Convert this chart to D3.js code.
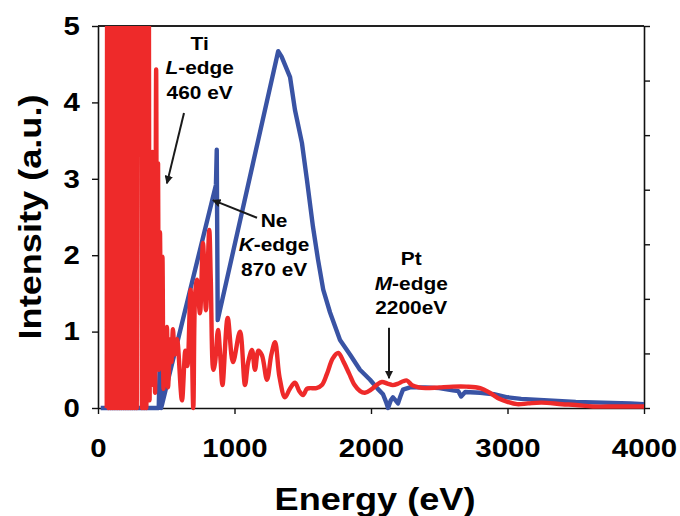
<!DOCTYPE html>
<html lang="en">
<head>
<meta charset="utf-8"/>
<title>Intensity vs Energy</title>
<script src="https://d3js.org/d3.v7.min.js"></script>
<style>
  body { margin: 0; background: #fff; }
  svg text { font-family: "Liberation Sans", Arial, sans-serif; font-weight: bold; fill: #000; }
</style>
</head>
<body>
<div id="chart"></div>
<script>
  // axis ticks
  const xTicks = [0, 1000, 2000, 3000, 4000];
  const yTicks = [0, 1, 2, 3, 4, 5];
  const rightTicks = [0, 1, 2, 3, 4, 5, 6, 7];

  // blue spectrum, [energy eV, intensity]
  const blueSpectrum = [
    [20, 0], [445, 0], [455, 0.85], [462, 0], [467, 0.03], [864, 2.92], [870, 3.38], [877, 1.15],
    [1320, 4.67], [1345, 4.6], [1407, 4.33], [1443, 3.9], [1494, 3.47], [1531, 2.98], [1575, 2.37],
    [1612, 1.94], [1650, 1.55], [1700, 1.25], [1773, 0.89], [1846, 0.7], [1919, 0.5], [1993, 0.37],
    [2050, 0.25], [2088, 0.18], [2110, 0.08], [2125, 0.0], [2145, 0.1], [2161, 0.14], [2180, 0.1],
    [2198, 0.06], [2215, 0.15], [2234, 0.24], [2286, 0.27], [2400, 0.27], [2500, 0.26], [2600, 0.23],
    [2640, 0.22], [2660, 0.15], [2690, 0.21], [2800, 0.2], [2900, 0.18], [3000, 0.14], [3100, 0.12],
    [3300, 0.1], [3500, 0.08], [3700, 0.07], [3900, 0.06], [4000, 0.05]
  ];

  // red spectrum, [energy eV, intensity] (values above 5 run off the top)
  const redSpectrum = [
    [64, 0], [68, 6], [76, 0], [84, 6], [92, 0], [100, 6], [108, 0], [116, 6], [124, 0], [132, 6],
    [140, 0], [148, 6], [156, 0], [164, 6], [172, 0], [180, 6], [188, 0], [196, 6], [204, 0], [212, 6],
    [220, 0], [228, 6], [236, 0], [244, 6], [252, 0], [260, 6], [268, 0], [276, 6], [284, 0], [290, 6],
    [302, 3.9], [314, 6], [322, 0], [330, 6], [338, 0], [346, 6], [354, 0], [362, 6], [370, 0.1],
    [372, 6], [378, 0.1], [383, 3.3], [390, 0.3], [398, 3.35], [404, 0.3], [412, 1.5],
    [418, 0.2], [426, 4.43], [432, 0.6], [440, 3.2], [446, 0.5], [454, 2.3], [462, 0.6], [472, 1.98],
    [480, 0.25], [488, 0.9], [495, 0.5], [505, 1.06], [513, 0.27], [530, 0.9], [538, 0.6], [549, 1.03],
    [562, 0.7], [579, 0.9], [615, 0.1], [640, 0.75], [655, 0.55], [678, 1.55], [698, 0], [712, 1.5],
    [725, 1.68], [747, 1.24], [769, 2.16], [791, 1.28], [815, 2.33], [826, 1.7], [845, 0.5], [858, 0.6],
    [879, 1.02], [897, 0.65], [912, 0.3], [950, 1.18], [989, 0.6], [1040, 1.0], [1077, 0.3], [1100, 0.6],
    [1128, 0.76], [1150, 0.5], [1175, 0.75], [1201, 0.69], [1238, 0.37], [1270, 0.7], [1297, 0.86],
    [1330, 0.4], [1370, 0.14], [1405, 0.25], [1443, 0.33], [1475, 0.22], [1502, 0.17], [1530, 0.25],
    [1553, 0.26], [1600, 0.26], [1640, 0.3], [1678, 0.45], [1720, 0.65], [1760, 0.72], [1800, 0.6],
    [1840, 0.45], [1880, 0.3], [1920, 0.22], [1955, 0.2], [2000, 0.24], [2040, 0.3], [2080, 0.34],
    [2120, 0.32], [2160, 0.3], [2200, 0.32], [2235, 0.35], [2263, 0.36], [2300, 0.3], [2350, 0.27],
    [2400, 0.26], [2500, 0.27], [2600, 0.28], [2700, 0.28], [2800, 0.26], [2870, 0.2], [2940, 0.12],
    [3000, 0.08], [3070, 0.05], [3150, 0.06], [3250, 0.07], [3400, 0.05], [3500, 0.04], [3625, 0.02],
    [3800, 0.02], [4000, 0.02]
  ];

  // annotations: lines of text, text anchor, arrow [from energy, from int, to energy, to int]
  const notes = [
    { lines: [["Ti"], ["L", "-edge"], ["460 eV"]], at: [745, 4.69], arrow: [630, 3.86, 505, 2.94] },
    { lines: [["Ne"], ["K", "-edge"], ["870 eV"]], at: [1290, 2.37], arrow: [1165, 2.49, 842, 2.72] },
    { lines: [["Pt"], ["M", "-edge"], ["2200eV"]], at: [2295, 1.87], arrow: [2132, 1.05, 2132, 0.39] }
  ];

  const width = 680, height = 516;
  const margin = { top: 26, right: 36, bottom: 108, left: 98 };
  const stretch = "scale(1.13,1)";

  const svg = d3.select("#chart").append("svg")
      .attr("width", width)
      .attr("height", height);

  const x = d3.scaleLinear().domain([0, 4000]).range([margin.left, width - margin.right]);
  const y = d3.scaleLinear().domain([0, 5]).range([height - margin.bottom, margin.top]);
  const yRight = d3.scaleLinear().domain([0, 7]).range(y.range());

  const defs = svg.append("defs");
  defs.append("clipPath").attr("id", "plot-clip")
    .append("rect")
      .attr("x", x(0)).attr("y", y(5))
      .attr("width", x(4000) - x(0)).attr("height", y(0) - y(5) + 4);
  defs.append("marker")
      .attr("id", "arrow")
      .attr("viewBox", "0 0 10 10")
      .attr("refX", 9).attr("refY", 5)
      .attr("markerWidth", 4.2).attr("markerHeight", 4.2)
      .attr("markerUnits", "strokeWidth")
      .attr("orient", "auto")
    .append("path")
      .attr("d", "M0,0 L10,5 L0,10 z")
      .attr("fill", "#1a1a1a");

  // frame: top line
  svg.append("line")
      .attr("x1", x(0)).attr("x2", x(4000))
      .attr("y1", y(5)).attr("y2", y(5))
      .attr("stroke", "#222").attr("stroke-width", 1.8);

  const fmt = d3.format("d");
  const xAxis = svg.append("g")
      .attr("transform", `translate(0,${y(0)})`)
      .call(d3.axisBottom(x).tickValues(xTicks).tickFormat(fmt).tickSize(6).tickSizeOuter(0).tickPadding(25));
  const yAxis = svg.append("g")
      .attr("transform", `translate(${x(0)},0)`)
      .call(d3.axisLeft(y).tickValues(yTicks).tickFormat(fmt).tickSize(6).tickSizeOuter(0).tickPadding(10));
  svg.append("g")
      .attr("transform", `translate(${x(4000)},0)`)
      .call(d3.axisRight(yRight).tickValues(rightTicks).tickSize(6).tickSizeOuter(0).tickFormat(""));

  svg.selectAll(".domain").attr("stroke", "#111").attr("stroke-width", 1.6);
  svg.selectAll(".tick line").attr("stroke", "#111").attr("stroke-width", 1.4);
  [xAxis, yAxis].forEach(g => g.selectAll("text")
      .attr("font-size", 26)
      .attr("transform", stretch));

  const blueLine = d3.line().x(d => x(d[0])).y(d => y(d[1]));
  const redLine = d3.line().x(d => x(d[0])).y(d => y(d[1])).curve(d3.curveCatmullRom.alpha(0.5));
  const plot = svg.append("g").attr("clip-path", "url(#plot-clip)");

  plot.append("path")
      .datum(blueSpectrum)
      .attr("d", blueLine)
      .attr("fill", "none")
      .attr("stroke", "#3953a4")
      .attr("stroke-width", 4.4)
      .attr("stroke-linejoin", "round");

  plot.append("path")
      .datum(redSpectrum)
      .attr("d", redLine)
      .attr("fill", "none")
      .attr("stroke", "#ee2a2a")
      .attr("stroke-width", 4.4)
      .attr("stroke-linejoin", "round");

  // annotations
  notes.forEach(n => {
    const g = svg.append("g")
        .attr("transform", `translate(${x(n.at[0])},${y(n.at[1])}) ${stretch}`);
    n.lines.forEach((parts, i) => {
      const t = g.append("text")
          .attr("y", i * 24.5)
          .attr("text-anchor", "middle")
          .attr("font-size", 18.5);
      parts.forEach((p, j) => {
        t.append("tspan")
          .attr("font-style", parts.length > 1 && j === 0 ? "italic" : "normal")
          .text(p);
      });
    });
    svg.append("line")
        .attr("x1", x(n.arrow[0])).attr("y1", y(n.arrow[1]))
        .attr("x2", x(n.arrow[2])).attr("y2", y(n.arrow[3]))
        .attr("stroke", "#1a1a1a")
        .attr("stroke-width", 2)
        .attr("marker-end", "url(#arrow)");
  });

  // axis titles
  svg.append("text")
      .attr("transform", `translate(${(x(0) + x(4000)) / 2 + 4},510) ${stretch}`)
      .attr("text-anchor", "middle")
      .attr("font-size", 32)
      .text("Energy (eV)");

  svg.append("text")
      .attr("transform", `translate(41,${(y(0) + y(5)) / 2}) rotate(-90) ${stretch}`)
      .attr("text-anchor", "middle")
      .attr("font-size", 32)
      .text("Intensity (a.u.)");
</script>
</body>
</html>
